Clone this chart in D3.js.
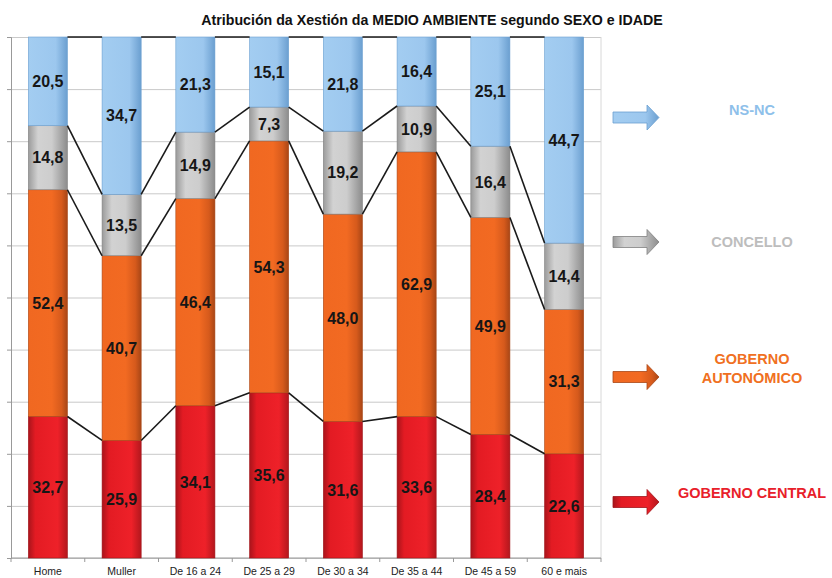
<!DOCTYPE html>
<html><head><meta charset="utf-8">
<script src="https://cdn.jsdelivr.net/npm/d3@7"></script>
<style>body{margin:0;background:#fff}svg{display:block;font-family:"Liberation Sans",Arial,sans-serif}</style>
</head><body><svg id="c" width="832" height="578"></svg>
<script>
const categories = ["Home","Muller","De 16 a 24","De 25 a 29","De 30 a 34","De 35 a 44","De 45 a 59","60 e mais"];
const seriesNames = ["GOBERNO CENTRAL","GOBERNO AUTONÓMICO","CONCELLO","NS-NC"];
const gobernoCentral    = [32.7,25.9,34.1,35.6,31.6,33.6,28.4,22.6];
const gobernoAutonomico = [52.4,40.7,46.4,54.3,48.0,62.9,49.9,31.3];
const concello          = [14.8,13.5,14.9,7.3,19.2,10.9,16.4,14.4];
const nsnc              = [20.5,34.7,21.3,15.1,21.8,16.4,25.1,44.7];
const title = "Atribución da Xestión da MEDIO AMBIENTE segundo SEXO e IDADE";

const keys = ["central","autonomico","concello","nsnc"];
const rows = categories.map((c,i)=>({cat:c,central:gobernoCentral[i],autonomico:gobernoAutonomico[i],concello:concello[i],nsnc:nsnc[i]}));
const stack = d3.stack().keys(keys).offset(d3.stackOffsetExpand)(rows);

const svg = d3.select("#c");
const L=11,R=601,T=37,B=558;
const x = d3.scaleBand().domain(categories).range([L,R]).paddingInner(0.47).paddingOuter(0.235);
const y = d3.scaleLinear().domain([0,1]).range([B,T]);

const defs = svg.append("defs");
const grads = {
  central:[[0,"#a9141b"],[0.18,"#e31b23"],[0.75,"#ee2129"],[1,"#b3171d"]],
  autonomico:[[0,"#f06821"],[0.6,"#f26a22"],[0.85,"#d65a1c"],[1,"#a84616"]],
  concello:[[0,"#9b9b9b"],[0.25,"#d2d2d2"],[0.6,"#cdcdcd"],[1,"#8c8c8c"]],
  nsnc:[[0,"#a3cdf1"],[0.7,"#9cc7ee"],[1,"#6b9fd0"]]
};
Object.entries(grads).forEach(([k,st])=>{
  const g=defs.append("linearGradient").attr("id","g-"+k).attr("x1",0).attr("x2",1).attr("y1",0).attr("y2",0);
  st.forEach(s=>g.append("stop").attr("offset",s[0]).attr("stop-color",s[1]));
});
const strokeCol={central:"#a0141a",autonomico:"#a84616",concello:"#808080",nsnc:"#6b9fd0"};

// gridlines
const yAxis = d3.axisLeft(y).ticks(10).tickSize(-(R-L)).tickFormat("");
const gy = svg.append("g").attr("transform",`translate(${L},0)`).call(yAxis);
gy.selectAll(".tick line").attr("stroke","#c9c9c9").attr("stroke-width",1);
gy.select(".domain").remove();
// left ticks
const gy2 = svg.append("g").attr("transform",`translate(${L},0)`).call(d3.axisLeft(y).ticks(10).tickSize(4).tickFormat(""));
gy2.selectAll("line,path").attr("stroke","#999");
// right border
svg.append("line").attr("x1",R).attr("x2",R).attr("y1",T).attr("y2",B).attr("stroke","#d8d8d8");
// bottom axis
const step = x.step();
svg.append("line").attr("x1",L).attr("x2",R).attr("y1",B).attr("y2",B).attr("stroke","#999");
svg.append("g").selectAll("line").data(d3.range(categories.length+1)).join("line")
  .attr("x1",i=>L+i*step).attr("x2",i=>L+i*step).attr("y1",B).attr("y2",B+4).attr("stroke","#999");
svg.append("g").selectAll("text").data(categories).join("text")
  .attr("x",d=>x(d)+x.bandwidth()/2).attr("y",B+17).attr("text-anchor","middle")
  .attr("font-size",10.5).attr("fill","#222").text(d=>d);

// bars
const layers = svg.append("g").selectAll("g").data(stack).join("g");
layers.selectAll("rect").data(s=>s.map(d=>({key:s.key,d}))).join("rect")
  .attr("x",o=>x(o.d.data.cat)).attr("width",x.bandwidth())
  .attr("y",o=>y(o.d[1])).attr("height",o=>y(o.d[0])-y(o.d[1]))
  .attr("fill",o=>`url(#g-${o.key})`).attr("stroke",o=>strokeCol[o.key]).attr("stroke-width",0.6);

// series lines
const lg = svg.append("g");
stack.forEach(s=>{
  for(let i=0;i<s.length-1;i++){
    lg.append("line")
      .attr("x1",x(categories[i])+x.bandwidth()).attr("y1",y(s[i][1]))
      .attr("x2",x(categories[i+1])).attr("y2",y(s[i+1][1]))
      .attr("stroke","#1a1a1a").attr("stroke-width",1.6);
  }
});

// labels
const fmt = v=>v.toFixed(1).replace(".",",");
layers.selectAll("text").data(s=>s.map(d=>({key:s.key,d}))).join("text")
  .attr("x",o=>x(o.d.data.cat)+x.bandwidth()/2)
  .attr("y",o=>(y(o.d[0])+y(o.d[1]))/2)
  .attr("dy","0.36em").attr("text-anchor","middle")
  .attr("font-size",16).attr("font-weight","bold").attr("fill","#161616")
  .text(o=>fmt(o.d.data[o.key]));

// title
svg.append("text").attr("x",432).attr("y",25).attr("text-anchor","middle")
  .attr("font-size",14.2).attr("font-weight","bold").attr("fill","#111").text(title);

// legend
const legend = [
  {key:"nsnc",ay:117.5,lines:["NS-NC"],ty:110,col:"#8ec0ea"},
  {key:"concello",ay:242,lines:["CONCELLO"],ty:242,col:"#bdbdbd"},
  {key:"autonomico",ay:377,lines:["GOBERNO","AUTONÓMICO"],ty:359,col:"#f07022"},
  {key:"central",ay:502,lines:["GOBERNO CENTRAL"],ty:493,col:"#e8202a"}
];
const lgd = svg.append("g");
legend.forEach(l=>{
  const x0=613,x1=647,x2=659,bh=5.5,hh=12.5,cy=l.ay;
  lgd.append("path").attr("d",`M${x0},${cy-bh}L${x1},${cy-bh}L${x1},${cy-hh}L${x2},${cy}L${x1},${cy+hh}L${x1},${cy+bh}L${x0},${cy+bh}Z`)
    .attr("fill",`url(#g-${l.key})`).attr("stroke",strokeCol[l.key]).attr("stroke-width",0.8);
  l.lines.forEach((t,j)=>{
    lgd.append("text").attr("x",752).attr("y",l.ty+j*19).attr("dy","0.36em").attr("text-anchor","middle")
      .attr("font-size",14.5).attr("font-weight","bold").attr("fill",l.col).text(t);
  });
});
</script></body></html>
